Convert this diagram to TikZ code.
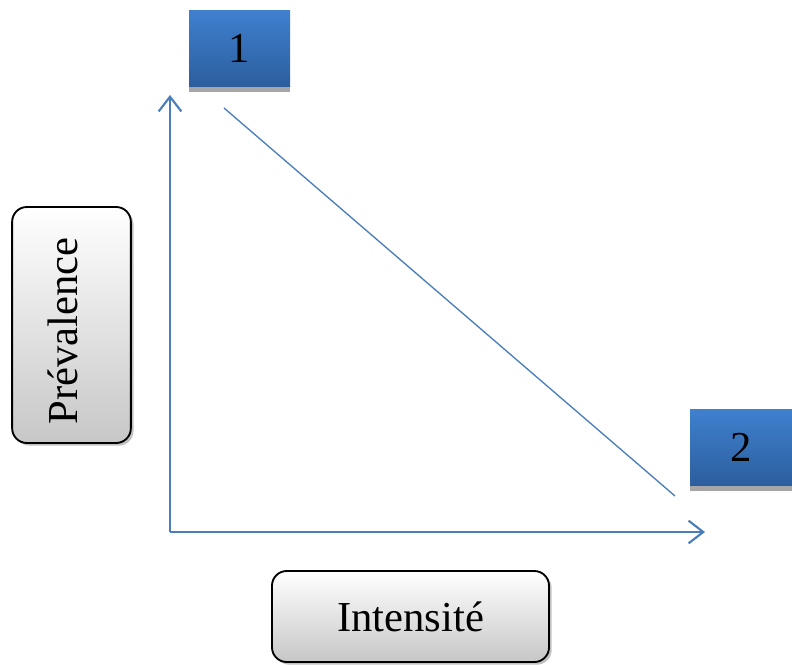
\documentclass[tikz,border=0pt]{standalone}
\usepackage{fontspec}
\setmainfont{Liberation Serif}
\usetikzlibrary{arrows.meta,shadows}
\definecolor{axisblue}{HTML}{4A7EBB}
\definecolor{boxtop}{HTML}{3F80CE}
\definecolor{boxbot}{HTML}{2C5E9E}
\definecolor{shadowgray}{HTML}{A6A6A6}
\tikzset{
  numbox/.style={rectangle, minimum width=#1, minimum height=57pt, inner sep=0pt,
    top color=boxtop, bottom color=boxbot, draw=none,
    drop shadow={shadow xshift=0pt, shadow yshift=-4pt, fill=shadowgray, opacity=1},
    font=\fontsize{32}{36}\selectfont},
  labelbox/.style={rectangle, rounded corners=11pt, draw=black, line width=1.4pt,
    top color=white, bottom color=black!22, inner sep=0pt,
    drop shadow={shadow xshift=2pt, shadow yshift=-2pt, fill=black!40, opacity=0.6},
    font=\fontsize{32}{36}\selectfont},
  axis/.style={draw=axisblue, line width=1.6pt, -{Straight Barb[length=11pt,width=17pt,line width=1.6pt]}},
  diag/.style={draw=axisblue, line width=1pt}
}
\begin{document}
\begin{tikzpicture}[x=0.75pt,y=-0.75pt]
\useasboundingbox (0,0) rectangle (792,664);
\node[numbox=75.75pt] (b1) at (239.5,48.5) {1};
\node[numbox=76.5pt] (b2) at (741,447.5) {2};
\node[labelbox, minimum width=89pt, minimum height=177pt] (prev) at (71.5,325) {};
\node[rotate=90, font=\fontsize{32}{36}\selectfont] (prevt) at (63,331) {Prévalence};
\node[labelbox, minimum width=207.75pt, minimum height=68.25pt] (int) at (410.5,616.5) {Intensité};
\coordinate (o) at (170,532);
\coordinate (ytip) at (170,95);
\coordinate (xtip) at (705,532);
\coordinate (d1) at (224,108);
\coordinate (d2) at (675,496);
\draw[axis] (o) -- (ytip);
\draw[axis] (o) -- (xtip);
\draw[diag] (d1) -- (d2);
\end{tikzpicture}
\end{document}
